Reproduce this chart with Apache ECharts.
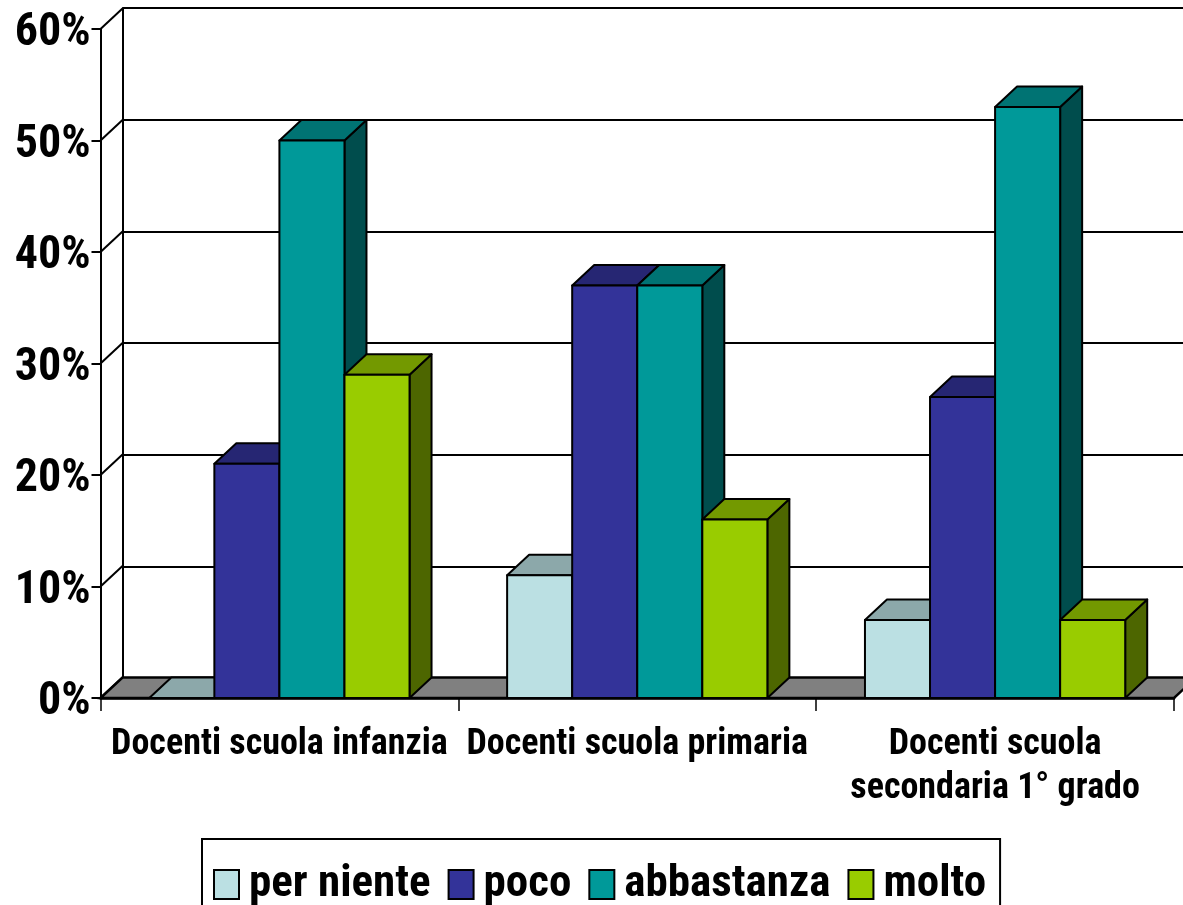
<!DOCTYPE html>
<html><head><meta charset="utf-8">
<style>html,body{margin:0;padding:0;background:#fff}#c{width:1183px;height:905px}</style>
<script src="https://cdn.jsdelivr.net/npm/echarts@6/dist/echarts.min.js"></script>
</head><body><div id="c"></div>
<script>
const categories = ['Docenti scuola infanzia', 'Docenti scuola primaria', 'Docenti scuola\nsecondaria 1° grado'];
const perNiente = [0, 11, 7];
const poco = [21, 37, 27];
const abbastanza = [50, 37, 53];
const molto = [29, 16, 7];
const seriesNames = ['per niente', 'poco', 'abbastanza', 'molto'];
const frontColors = ['#BBE0E3', '#333399', '#009999', '#99CC00'];
const topColors = ['#8CA8AA', '#262673', '#007373', '#739900'];
const sideColors = ['#5E7072', '#1A1A4D', '#004D4D', '#4D6600'];
const yTicks = [0, 10, 20, 30, 40, 50, 60];

const FONT = '"Roboto Condensed","Liberation Sans",Arial,sans-serif';
const DX = 22, DY = -20.5, BW = 2;
const allValues = [perNiente, poco, abbastanza, molto];

function barSeries(k) {
  return {
    type: 'custom', name: seriesNames[k], xAxisIndex: 0, yAxisIndex: 0, z: 5 + k,
    encode: {x: 0, y: 1},
    itemStyle: {color: frontColors[k], borderColor: '#000', borderWidth: 1.5},
    data: allValues[k].map((v, i) => [i, v]),
    renderItem(params, api) {
      const p = api.coord([api.value(0), api.value(1)]);
      const base = api.coord([api.value(0), 0]);
      const band = api.size([1, 0])[0];
      const w = band / 5.5;
      const x0 = p[0] - 2 * w + k * w, x1 = x0 + w, yT = p[1], yB = base[1];
      const s = {stroke: '#000', lineWidth: BW, lineJoin: 'round'};
      return {type: 'group', children: [
        {type: 'polygon', shape: {points: [[x1, yB], [x1 + DX, yB + DY], [x1 + DX, yT + DY], [x1, yT]]},
          style: Object.assign({fill: sideColors[k]}, s)},
        {type: 'polygon', shape: {points: [[x0, yT], [x0 + DX, yT + DY], [x1 + DX, yT + DY], [x1, yT]]},
          style: Object.assign({fill: topColors[k]}, s)},
        {type: 'polygon', shape: {points: [[x0, yT], [x1, yT], [x1, yB], [x0, yB]]},
          style: Object.assign({fill: frontColors[k]}, s)}
      ]};
    }
  };
}

const floorSeries = {
  type: 'custom', name: 'floor', xAxisIndex: 0, yAxisIndex: 0, z: 3, silent: true,
  encode: {x: 0, y: 1},
  data: [[0, 0]],
  renderItem(params, api) {
    const p = api.coord([0, 0]);
    const band = api.size([1, 0])[0];
    const xL = p[0] - band / 2, xR = xL + band * categories.length;
    return {type: 'polygon',
      shape: {points: [[xL, p[1]], [xL + DX, p[1] + DY], [xR + DX, p[1] + DY], [xR, p[1]]]},
      style: {fill: '#808080', stroke: '#000', lineWidth: 2.5}};
  }
};

const depthSeries = {
  type: 'custom', name: 'depth', xAxisIndex: 0, yAxisIndex: 0, z: 2, silent: true,
  encode: {x: 0, y: 1},
  data: yTicks.map(v => [0, v]),
  renderItem(params, api) {
    const p = api.coord([0, api.value(1)]);
    const band = api.size([1, 0])[0];
    const xL = p[0] - band / 2;
    return {type: 'line', shape: {x1: xL, y1: p[1], x2: xL + DX, y2: p[1] + DY},
      style: {stroke: '#000', lineWidth: 2}};
  }
};

const chart = echarts.init(document.getElementById('c'), null, {renderer: 'canvas'});
chart.setOption({
  animation: false,
  backgroundColor: '#fff',
  grid: [
    {left: 100.5, top: 29, width: 1073.5, height: 669},
    {left: 122.5, top: 8, width: 1073.5, height: 670}
  ],
  legend: {
    data: seriesNames, left: 202, top: 839,
    padding: [23, 14, 24, 11], itemGap: 17, itemWidth: 25, itemHeight: 29, icon: 'rect',
    borderColor: '#000', borderWidth: 2, backgroundColor: '#fff',
    textStyle: {fontFamily: FONT, fontWeight: 'bold', fontSize: 45, color: '#000', padding: [0, 0, 4, 5]}
  },
  xAxis: [
    {type: 'category', gridIndex: 0, data: categories, boundaryGap: true,
      axisLine: {show: true, lineStyle: {color: '#000', width: 2.5}},
      axisTick: {show: true, length: 13, alignWithLabel: false, lineStyle: {color: '#000', width: 1.5}},
      axisLabel: {interval: 0, hideOverlap: false, margin: 25, color: '#000', fontFamily: FONT, fontWeight: 'bold', fontSize: 36, lineHeight: 44}},
    {type: 'category', gridIndex: 1, data: categories,
      axisLine: {show: false}, axisTick: {show: false}, axisLabel: {show: false}}
  ],
  yAxis: [
    {type: 'value', gridIndex: 0, min: 0, max: 60, interval: 10,
      axisLine: {show: true, lineStyle: {color: '#000', width: 2}},
      axisTick: {show: true, length: 9, lineStyle: {color: '#000', width: 2}},
      splitLine: {show: false},
      axisLabel: {formatter: '{value}%', margin: 10, color: '#000', fontFamily: FONT, fontWeight: 'bold', fontSize: 46, verticalAlign: 'top', lineHeight: 9}},
    {type: 'value', gridIndex: 1, min: 0, max: 60, interval: 10,
      axisLine: {show: true, lineStyle: {color: '#000', width: 2}},
      axisTick: {show: false}, axisLabel: {show: false},
      splitLine: {show: true, lineStyle: {color: '#000', width: 2}}}
  ],
  series: [depthSeries, floorSeries, barSeries(0), barSeries(1), barSeries(2), barSeries(3)]
});
</script></body></html>
